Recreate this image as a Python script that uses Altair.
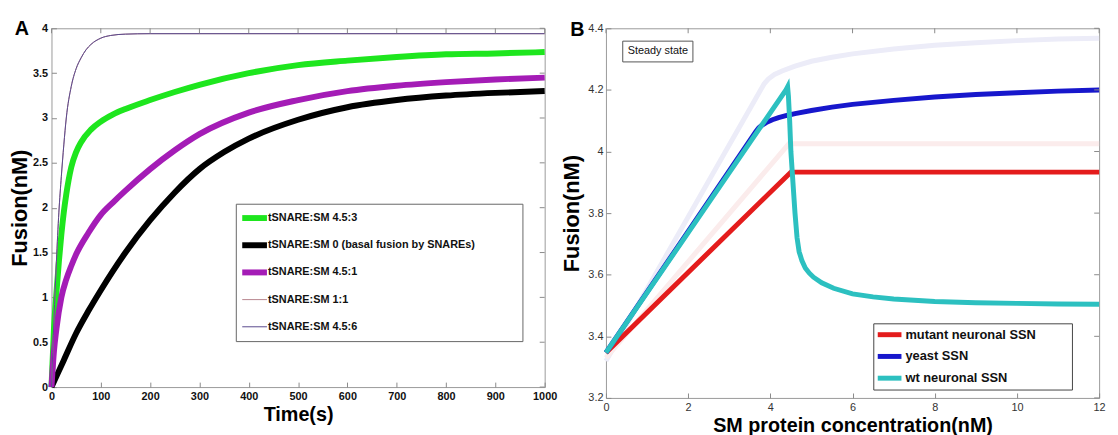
import altair as alt
import pandas as pd

FONT = "Liberation Sans, Arial, Helvetica, sans-serif"

# ---------------- Panel A data ----------------
a_series = ["tSNARE:SM 4.5:3", "tSNARE:SM 0 (basal fusion by SNAREs)", "tSNARE:SM 4.5:1",
            "tSNARE:SM 1:1", "tSNARE:SM 4.5:6"]
a_colors = ["#1ee61e", "#000000", "#a41cb6", "#b8868f", "#5a4a8e"]
a_widths = [6, 6, 6, 1, 1]

t_green = [0, 5, 10, 15, 20, 25, 30, 40, 50, 60, 80, 100, 125, 150, 200, 250, 300, 400, 500, 600, 700, 800, 900, 1000]
f_green = [0, 0.65, 1.05, 1.4, 1.7, 1.95, 2.15, 2.45, 2.62, 2.73, 2.87, 2.96, 3.04, 3.1, 3.2, 3.29, 3.37, 3.5, 3.59, 3.64, 3.68, 3.71, 3.72, 3.735]

t_black = [0, 25, 50, 75, 100, 150, 200, 250, 300, 350, 400, 500, 600, 700, 800, 900, 1000]
f_black = [0, 0.3, 0.6, 0.85, 1.08, 1.5, 1.86, 2.17, 2.43, 2.62, 2.77, 2.98, 3.12, 3.2, 3.25, 3.28, 3.30]

t_mag = [0, 5, 10, 20, 30, 40, 50, 75, 100, 125, 150, 200, 250, 300, 400, 500, 600, 700, 800, 900, 1000]
f_mag = [0, 0.4, 0.65, 1.0, 1.2, 1.35, 1.48, 1.72, 1.92, 2.06, 2.19, 2.43, 2.64, 2.82, 3.06, 3.2, 3.3, 3.36, 3.4, 3.43, 3.45]

t_thin = [0, 5, 10, 15, 20, 25, 30, 40, 50, 60, 70, 80, 100, 120, 150, 200, 1000]
f_thin = [0, 0.75, 1.4, 1.95, 2.35, 2.7, 3.0, 3.35, 3.55, 3.67, 3.76, 3.82, 3.89, 3.92, 3.935, 3.94, 3.94]

a_x_ticks = [0, 100, 200, 300, 400, 500, 600, 700, 800, 900, 1000]
a_y_ticks = [0, 0.5, 1, 1.5, 2, 2.5, 3, 3.5, 4]

# ---------------- Panel B data ----------------
b_series = ["mutant neuronal SSN", "yeast SSN", "wt neuronal SSN"]
b_colors = ["#e41c1c", "#1717cc", "#2cc0c0"]

x_red = [0, 4.5, 12]
f_red = [3.347, 3.933, 3.933]

x_blue = [0, 3.65, 3.72, 3.8, 3.9, 4.05, 4.2, 4.4, 4.6, 5.0, 5.5, 6, 7, 8, 9, 10, 11, 12]
f_blue = [3.347, 4.065, 4.077, 4.086, 4.094, 4.103, 4.11, 4.117, 4.123, 4.133, 4.144, 4.153, 4.166, 4.177, 4.185, 4.191, 4.196, 4.2]

x_cyan = [0, 4.38, 4.42, 4.44, 4.47, 4.5, 4.55, 4.6, 4.65, 4.7, 4.77, 4.85, 4.95, 5.05, 5.25, 5.54, 6.0, 6.5, 7.0, 8, 9, 10, 11, 12]
f_cyan = [3.347, 4.2, 4.21, 4.18, 4.1, 4.0, 3.9, 3.8, 3.72, 3.675, 3.645, 3.622, 3.605, 3.592, 3.574, 3.556, 3.538, 3.528, 3.521, 3.513, 3.509, 3.507, 3.505, 3.504]

# faint ghost curves visible behind panel B
x_ghost_blue = [0, 3.85, 3.95, 4.1, 4.3, 4.6, 5, 5.5, 6, 7, 8, 9, 10, 11, 12]
f_ghost_blue = [3.32, 4.22, 4.235, 4.25, 4.262, 4.277, 4.293, 4.306, 4.317, 4.333, 4.345, 4.353, 4.36, 4.365, 4.368]
x_ghost_red = [0, 4.45, 12]
f_ghost_red = [3.33, 4.025, 4.025]

b_x_ticks = [0, 2, 4, 6, 8, 10, 12]
b_y_ticks = [3.2, 3.4, 3.6, 3.8, 4.0, 4.2, 4.4]

panel_labels = ["A", "B"]
note_text = ["Steady state"]

# ---------------- tables ----------------
rowsA = []
for k, (ts, fs) in enumerate([(t_green, f_green), (t_black, f_black), (t_mag, f_mag),
                              (t_thin, f_thin), (t_thin, f_thin)]):
    for i, (t, f) in enumerate(zip(ts, fs)):
        rowsA.append({"series": a_series[k], "w": a_widths[k], "t": t, "f": f, "i": i})
dfA = pd.DataFrame(rowsA)
legA_df = pd.DataFrame({"series": a_series, "w": a_widths, "k": list(range(len(a_series)))})

rowsB = []
for name, xs, fs in [(b_series[0], x_red, f_red), (b_series[1], x_blue, f_blue),
                     (b_series[2], x_cyan, f_cyan)]:
    for i, (x, f) in enumerate(zip(xs, fs)):
        rowsB.append({"group": name, "x": x, "f": f, "i": i})
dfB = pd.DataFrame(rowsB)
legB_df = pd.DataFrame({"group": b_series, "k": list(range(len(b_series)))})

dfGB = pd.DataFrame({"x": x_ghost_blue, "f": f_ghost_blue})
dfGR = pd.DataFrame({"x": x_ghost_red, "f": f_ghost_red})

one = pd.DataFrame({"s": [0]})

TICK = "#8a8a8a"
tick_common = dict(domain=False, grid=False, tickColor=TICK, tickSize=5, offset=-5, labelFlush=False)

# ---------------- Panel A ----------------
WA, HA = 499, 363
a_xscale = alt.Scale(domain=[0, 1000], nice=False)
a_yscale = alt.Scale(domain=[0, 4], nice=False)
colorA = alt.Scale(domain=a_series, range=a_colors)

linesA = alt.Chart(dfA).mark_line(interpolate="monotone").encode(
    x=alt.X("t:Q", scale=a_xscale,
            axis=alt.Axis(values=a_x_ticks, format="d", labelFont=FONT, labelFontWeight="bold",
                          labelFontSize=11, labelColor="#111", labelPadding=4,
                          title="Time(s)", titleFont=FONT, titleFontWeight="bold", titleFontSize=20,
                          titleColor="black", titlePadding=3, **tick_common)),
    y=alt.Y("f:Q", scale=a_yscale,
            axis=alt.Axis(values=a_y_ticks, format="~g", labelFont=FONT, labelFontWeight="bold",
                          labelFontSize=11, labelColor="#111", labelPadding=4,
                          title="Fusion(nM)", titleFont=FONT, titleFontWeight="bold", titleFontSize=22,
                          titleColor="black", titlePadding=1, **tick_common)),
    color=alt.Color("series:N", scale=colorA, legend=None),
    strokeWidth=alt.StrokeWidth("w:Q", scale=None, legend=None),
    order="i:Q",
)

# inward ticks on the top and right edges, from the tick arrays
topA = alt.Chart(pd.DataFrame({"v": a_x_ticks})).mark_rule(color=TICK).encode(
    x=alt.X("v:Q", scale=a_xscale, axis=None), y=alt.value(0), y2=alt.value(5))
rightA = alt.Chart(pd.DataFrame({"v": a_y_ticks})).mark_rule(color=TICK).encode(
    y=alt.Y("v:Q", scale=a_yscale, axis=None), x=alt.value(WA - 5), x2=alt.value(WA))

labelA = alt.Chart(pd.DataFrame({"lab": [panel_labels[0]]})).mark_text(
    font=FONT, fontWeight="bold", fontSize=20, color="black", align="center", baseline="middle"
).encode(text="lab:N", x=alt.value(-30), y=alt.value(1))

# invisible (white) rule that sets the top of panel A's bounds
spacerA = alt.Chart(one).mark_rule(color="white", strokeWidth=1).encode(
    x=alt.value(0), x2=alt.value(2), y=alt.value(-20.5))

legA_box = alt.Chart(one).mark_rect(fill="white", stroke="#666", strokeWidth=1).encode(
    x=alt.value(187), x2=alt.value(477), y=alt.value(178), y2=alt.value(317))
legA_base = alt.Chart(legA_df).transform_calculate(ly="192 + datum.k * 27.5")
legA_sym = legA_base.mark_rule().encode(
    x=alt.value(193), x2=alt.value(218),
    y=alt.Y("ly:Q", scale=None, axis=None),
    color=alt.Color("series:N", scale=colorA, legend=None),
    strokeWidth=alt.StrokeWidth("w:Q", scale=None, legend=None))
legA_txt = legA_base.mark_text(font=FONT, fontWeight="bold", fontSize=11, color="#111",
                               align="left", baseline="middle").encode(
    x=alt.value(219), y=alt.Y("ly:Q", scale=None, axis=None), text="series:N")

panelA = alt.layer(linesA, topA, rightA, labelA, spacerA, legA_box, legA_sym, legA_txt).resolve_axis(
    x="independent", y="independent").properties(width=WA, height=HA)

# ---------------- Panel B ----------------
WB, HB = 499, 374
b_xscale = alt.Scale(domain=[0, 12], nice=False)
b_yscale = alt.Scale(domain=[3.2, 4.4], nice=False)
colorB = alt.Scale(domain=b_series, range=b_colors)

ghostB1 = alt.Chart(dfGB).mark_line(strokeWidth=5, color="#ececf8").encode(
    x=alt.X("x:Q", scale=b_xscale,
            axis=alt.Axis(values=b_x_ticks, format="d", labelFont=FONT, labelFontSize=11,
                          labelColor="#333", labelPadding=4,
                          title="SM protein concentration(nM)", titleFont=FONT, titleFontWeight="bold",
                          titleFontSize=20, titleColor="black", titlePadding=3, **tick_common)),
    y=alt.Y("f:Q", scale=b_yscale,
            axis=alt.Axis(values=b_y_ticks, format="~g", labelFont=FONT, labelFontSize=11,
                          labelColor="#333", labelPadding=3,
                          title="Fusion(nM)", titleFont=FONT, titleFontWeight="bold", titleFontSize=22,
                          titleColor="black", titlePadding=4, **tick_common)),
)
ghostB2 = alt.Chart(dfGR).mark_line(strokeWidth=5, color="#fbecec").encode(
    x=alt.X("x:Q", scale=b_xscale, axis=None),
    y=alt.Y("f:Q", scale=b_yscale, axis=None),
)

linesB = alt.Chart(dfB).mark_line(strokeWidth=5).encode(
    x=alt.X("x:Q", scale=b_xscale, axis=None),
    y=alt.Y("f:Q", scale=b_yscale, axis=None),
    color=alt.Color("group:N", scale=colorB, legend=None),
    order="i:Q",
)

topB = alt.Chart(pd.DataFrame({"v": b_x_ticks})).mark_rule(color=TICK).encode(
    x=alt.X("v:Q", scale=b_xscale, axis=None), y=alt.value(0), y2=alt.value(5))
rightB = alt.Chart(pd.DataFrame({"v": b_y_ticks})).mark_rule(color=TICK).encode(
    y=alt.Y("v:Q", scale=b_yscale, axis=None), x=alt.value(WB - 5), x2=alt.value(WB))

labelB = alt.Chart(pd.DataFrame({"lab": [panel_labels[1]]})).mark_text(
    font=FONT, fontWeight="bold", fontSize=20, color="black", align="center", baseline="middle"
).encode(text="lab:N", x=alt.value(-29), y=alt.value(2))

noteBox = alt.Chart(one).mark_rect(fill="white", stroke="#555", strokeWidth=1).encode(
    x=alt.value(17), x2=alt.value(88), y=alt.value(13), y2=alt.value(34))
noteText = alt.Chart(pd.DataFrame({"lab": note_text})).mark_text(
    font=FONT, fontSize=11, color="#111", align="center", baseline="middle"
).encode(text="lab:N", x=alt.value(52.5), y=alt.value(23.5))

legB_box = alt.Chart(one).mark_rect(fill="white", stroke="#444", strokeWidth=1).encode(
    x=alt.value(271), x2=alt.value(472), y=alt.value(299), y2=alt.value(366))
legB_base = alt.Chart(legB_df).transform_calculate(ly="310 + datum.k * 22")
legB_sym = legB_base.mark_rule(strokeWidth=5).encode(
    x=alt.value(275), x2=alt.value(299),
    y=alt.Y("ly:Q", scale=None, axis=None),
    color=alt.Color("group:N", scale=colorB, legend=None))
legB_txt = legB_base.mark_text(font=FONT, fontWeight="bold", fontSize=13, color="#111",
                               align="left", baseline="middle").encode(
    x=alt.value(303), y=alt.Y("ly:Q", scale=None, axis=None), text="group:N")

panelB = alt.layer(ghostB1, ghostB2, linesB, topB, rightB, labelB, noteBox, noteText,
                   legB_box, legB_sym, legB_txt).resolve_axis(
    x="independent", y="independent").properties(width=WB, height=HB)

chart = alt.concat(panelA, panelB, columns=2, spacing=3, align="none").resolve_scale(
    color="independent"
).configure_view(stroke="#9a9a9a").properties(
    padding={"left": 0, "top": -4, "right": 0, "bottom": 0}, background="white"
)

chart.save("out.html", embed_options={"renderer": "svg", "actions": False})
